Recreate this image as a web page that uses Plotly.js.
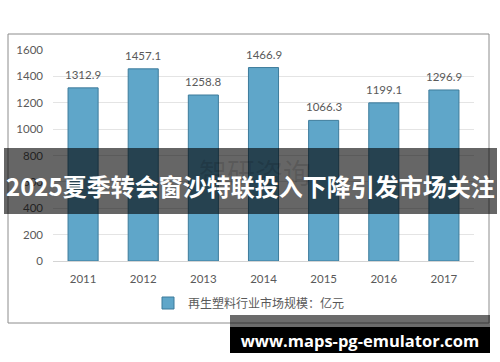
<!DOCTYPE html>
<html>
<head>
<meta charset="utf-8">
<script src="https://cdn.plot.ly/plotly-3.0.1.min.js"></script>
<style>html,body{margin:0;padding:0;background:#fff;}#chart{width:500px;height:362px;}</style>
</head>
<body>
<div id="chart"></div>
<script>
const years = ['2011','2012','2013','2014','2015','2016','2017'];
const marketSize = [1312.9, 1457.1, 1258.8, 1466.9, 1066.3, 1199.1, 1296.9];
const yTicks = [0, 200, 400, 600, 800, 1000, 1200, 1400, 1600];
const seriesName = '再生塑料行业市场规模：亿元';
const headline = '2025夏季转会窗沙特联投入下降引发市场关注';
const watermark = '智研咨询';
const siteText = 'www.maps-pg-emulator.com';

const W = 500, H = 362, L = 53, R = 26, T = 50, B = 101;
const pw = W - L - R, ph = H - T - B;
const px = v => (v - L) / pw;
const py = v => (H - B - v) / ph;

const trace = {
  type: 'bar', x: years, y: marketSize, name: seriesName,
  marker: {color: '#5fa6c9', line: {color: '#3d7b9b', width: 1}},
  hoverinfo: 'none'
};

const labels = years.map((yr, i) => ({
  x: i, y: marketSize[i], xref: 'x', yref: 'y',
  text: marketSize[i].toFixed(1), showarrow: false,
  yanchor: 'bottom', yshift: 5,
  font: {family: 'Lato, "Open Sans", sans-serif', size: 11.5, color: '#595959'}
}));

const layout = {
  width: W, height: H,
  margin: {l: L, r: R, t: T, b: B},
  paper_bgcolor: '#ffffff', plot_bgcolor: '#ffffff',
  bargap: 0.5,
  showlegend: true,
  legend: {orientation: 'h', x: px(249), xanchor: 'center', y: py(303), yanchor: 'middle',
           bgcolor: 'rgba(0,0,0,0)', itemwidth: 30,
           font: {family: '"Noto Sans CJK SC", sans-serif', size: 12, color: '#595959'}},
  xaxis: {type: 'category', range: [-0.5, 6.5], autorange: false, showgrid: false, zeroline: false, showline: false, ticks: '',
          ticklabelstandoff: 9,
          tickfont: {family: 'Lato, "Open Sans", sans-serif', size: 11.5, color: '#595959'}},
  yaxis: {range: [0, 1600], autorange: false, tickvals: yTicks, showgrid: true, gridcolor: '#e4e4e4', gridwidth: 1,
          zeroline: true, zerolinecolor: '#d4d4d4', zerolinewidth: 1, showline: false, ticks: '',
          ticklabelstandoff: 9,
          tickfont: {family: 'Lato, "Open Sans", sans-serif', size: 11.5, color: '#595959'}},
  shapes: [
    {type: 'rect', xref: 'paper', yref: 'paper', x0: px(8), x1: px(489), y0: py(323), y1: py(34),
     line: {color: '#8c8c8c', width: 1}, fillcolor: 'rgba(0,0,0,0)', layer: 'below'},
    {type: 'rect', xref: 'paper', yref: 'paper', x0: px(4), x1: px(497), y0: py(214), y1: py(148),
     line: {width: 0}, fillcolor: 'rgba(0,0,0,0.6)', layer: 'above'},
    {type: 'rect', xref: 'paper', yref: 'paper', x0: px(230), x1: px(490), y0: py(328), y1: py(315),
     line: {width: 0}, fillcolor: 'rgba(0,0,0,0.58)', layer: 'above'}
  ],
  annotations: labels.concat([
    {xref: 'paper', yref: 'paper', x: px(255), y: py(172), text: watermark, showarrow: false,
     font: {family: '"Noto Sans CJK SC", sans-serif', size: 28, color: 'rgba(0,0,0,0.13)'}},
    {xref: 'paper', yref: 'paper', x: px(250), y: py(185), text: headline, showarrow: false,
     font: {family: '"Noto Sans CJK SC", sans-serif', size: 24, color: '#ffffff', weight: 'bold'}},
    {xref: 'paper', yref: 'paper', x: px(230), xanchor: 'left', y: py(327), yanchor: 'top',
     width: 260, height: 26, borderpad: 0, borderwidth: 0, bgcolor: '#000000', align: 'center', valign: 'middle',
     text: siteText, showarrow: false,
     font: {family: '"Open Sans", sans-serif', size: 16.5, color: '#ffffff', weight: 'bold'}}
  ])
};

Plotly.newPlot('chart', [trace], layout, {displayModeBar: false, staticPlot: true});
</script>
</body>
</html>
